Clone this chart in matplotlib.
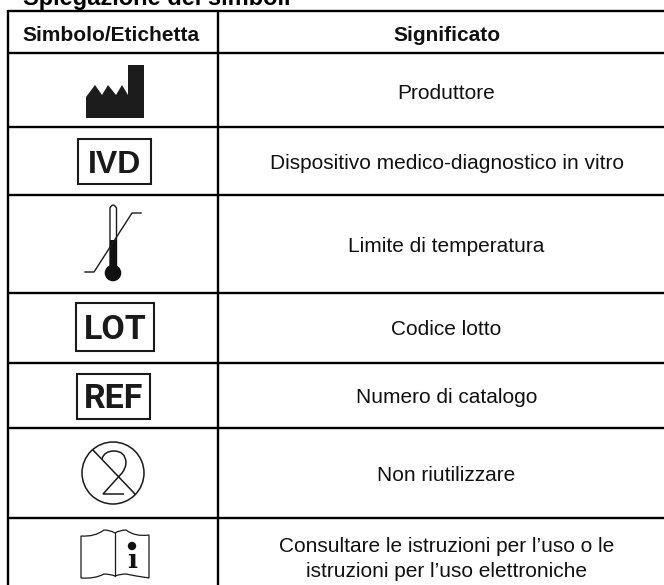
import matplotlib
matplotlib.use("Agg")
import matplotlib.pyplot as plt
from matplotlib.patches import Circle, Polygon, Rectangle, PathPatch
from matplotlib.path import Path

plt.rcParams['font.family'] = ['Liberation Sans', 'DejaVu Sans']

title = "Spiegazione dei simboli"
headers = ["Simbolo/Etichetta", "Significato"]
meanings = [
    "Produttore",
    "Dispositivo medico-diagnostico in vitro",
    "Limite di temperatura",
    "Codice lotto",
    "Numero di catalogo",
    "Non riutilizzare",
    "Consultare le istruzioni per l\u2019uso o le\nistruzioni per l\u2019uso elettroniche",
]
box_labels = {"IVD": (78, 139, 151, 184, 173, 23, 'Liberation Sans'),
              "LOT": (76, 303, 154, 351, 339, 24.5, 'Roboto'),
              "REF": (77, 374, 150, 419, 408, 24.5, 'Roboto')}

# layout in image pixels
row_lines = [11, 53, 127, 195, 293, 363, 428, 518]
col_lines = [8, 218]
text_x = 446.5
text_base = [99, 169, 252, 335, 403, 481, 577]
ink = "#111111"

fig = plt.figure(figsize=(6.64, 5.85), dpi=100)
ax = fig.add_axes([0, 0, 1, 1])
ax.set_xlim(0, 664)
ax.set_ylim(585, 0)
ax.axis("off")

ax.text(23, 5, title, fontsize=17, fontweight="bold", color="black", va="baseline", ha="left")

for y in row_lines:
    ax.plot([8, 664], [y, y], color="black", lw=1.7, solid_capstyle="butt")
for x in col_lines:
    ax.plot([x, x], [10, 585], color="black", lw=1.7, solid_capstyle="butt")

ax.text(110.5, 41, headers[0], fontsize=15, fontweight="bold", color=ink, ha="center", va="baseline")
ax.text(text_x, 41, headers[1], fontsize=15, fontweight="bold", color=ink, ha="center", va="baseline")
for m, y in zip(meanings, text_base):
    ax.text(text_x, y, m, fontsize=15, color=ink, ha="center", va="baseline", linespacing=1.43)

# factory
ax.add_patch(Polygon([(86, 118), (86, 97), (95, 85), (102, 95), (108, 85), (116, 95), (122, 85),
                      (128, 95), (128, 65), (144, 65), (144, 118)], closed=True, fc="#1c1c1c", ec="none"))

# boxed labels
for lab, (x0, y0, x1, y1, base, fs, fam) in box_labels.items():
    ax.add_patch(Rectangle((x0, y0), x1 - x0, y1 - y0, fc="white", ec="#1a1a1a", lw=1.5))
    ax.text((x0 + x1) / 2, base, lab, fontsize=fs, fontweight="bold", color="#1a1a1a",
            family=fam, ha="center", va="baseline")

# thermometer
ax.plot([85, 94, 132, 141], [272, 272, 213, 213], color="#1a1a1a", lw=1.0)
ax.add_patch(PathPatch(Path([(110, 270), (110, 208), (113, 202), (116.5, 208), (116.5, 270)],
                            [Path.MOVETO, Path.LINETO, Path.CURVE3, Path.CURVE3, Path.LINETO]),
                       fc="none", ec="#1a1a1a", lw=1.0))
ax.add_patch(Rectangle((109.5, 240), 7, 30, fc="#111111", ec="none"))
ax.add_patch(Circle((113, 273), 8.3, fc="#111111", ec="none"))

# do not reuse
ax.add_patch(Circle((113, 473), 31, fc="none", ec="#1a1a1a", lw=1.1))
ax.plot([93, 135], [450, 494], color="#1a1a1a", lw=1.1)
ax.add_patch(PathPatch(Path([(102, 459), (104, 451), (114, 451), (125, 451), (126, 462), (126, 468), (122, 473),
                             (103, 494), (124, 494)],
                            [Path.MOVETO, Path.CURVE3, Path.CURVE3, Path.CURVE3, Path.CURVE3, Path.CURVE3, Path.CURVE3,
                             Path.LINETO, Path.LINETO]),
                       fc="none", ec="#1a1a1a", lw=1.1))

# book with info sign
top = [(81, 536), (95, 537), (104, 530), (110, 530), (115, 533), (120, 530), (126, 530), (135, 537), (149, 535)]
bot = [(149, 578), (135, 576), (126, 574), (120, 574), (115, 576), (110, 574), (104, 574), (95, 579), (81, 578)]
codes = [Path.MOVETO] + [Path.CURVE3] * 8 + [Path.LINETO] + [Path.CURVE3] * 8 + [Path.CLOSEPOLY]
ax.add_patch(PathPatch(Path(top + bot + [top[0]], codes), fc="none", ec="#1a1a1a", lw=0.9))
ax.plot([115, 115], [533, 576], color="#1a1a1a", lw=0.9)
ax.add_patch(Circle((132, 546), 4.2, fc="#111111", ec="none"))
ax.text(132, 561, "\u0131", family="DejaVu Serif", fontweight="bold", fontsize=19, color="#111111", ha="center", va="center")

fig.savefig("out.png", dpi=100)
